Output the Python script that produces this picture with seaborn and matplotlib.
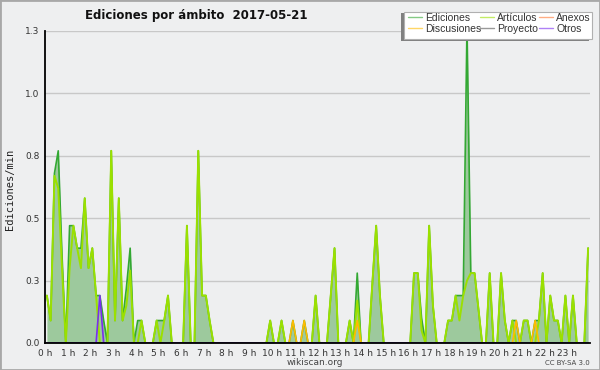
import numpy as np
import pandas as pd
import matplotlib
matplotlib.use("Agg")
import matplotlib.pyplot as plt
import seaborn as sns
from matplotlib.patches import Rectangle
from matplotlib.ticker import MultipleLocator

# Edits per minute, 10-minute bins over the day (144 bins)
ediciones = [
    0.19, 0.09, 0.68, 0.77, 0.35, 0.00,   # 0 h
    0.47, 0.47, 0.38, 0.38, 0.58, 0.30,   # 1 h
    0.38, 0.19, 0.19, 0.09, 0.00, 0.77,   # 2 h
    0.09, 0.58, 0.09, 0.22, 0.38, 0.00,   # 3 h
    0.09, 0.09, 0.00, 0.00, 0.00, 0.09,   # 4 h
    0.09, 0.09, 0.19, 0.00, 0.00, 0.00,   # 5 h
    0.00, 0.47, 0.00, 0.00, 0.77, 0.19,   # 6 h
    0.19, 0.09, 0.00, 0.00, 0.00, 0.00,   # 7 h
    0.00, 0.00, 0.00, 0.00, 0.00, 0.00,   # 8 h
    0.00, 0.00, 0.00, 0.00, 0.00, 0.09,   # 9 h
    0.00, 0.00, 0.09, 0.00, 0.00, 0.09,   # 10 h
    0.00, 0.00, 0.09, 0.00, 0.00, 0.19,   # 11 h
    0.00, 0.00, 0.00, 0.19, 0.38, 0.00,   # 12 h
    0.00, 0.00, 0.09, 0.00, 0.28, 0.00,   # 13 h
    0.00, 0.00, 0.24, 0.47, 0.19, 0.00,   # 14 h
    0.00, 0.00, 0.00, 0.00, 0.00, 0.00,   # 15 h
    0.00, 0.28, 0.28, 0.10, 0.00, 0.47,   # 16 h
    0.15, 0.00, 0.00, 0.00, 0.09, 0.09,   # 17 h
    0.19, 0.19, 0.19, 1.27, 0.28, 0.28,   # 18 h
    0.14, 0.00, 0.00, 0.28, 0.00, 0.00,   # 19 h
    0.28, 0.09, 0.00, 0.09, 0.09, 0.00,   # 20 h
    0.09, 0.09, 0.00, 0.09, 0.09, 0.28,   # 21 h
    0.00, 0.19, 0.09, 0.09, 0.00, 0.19,   # 22 h
    0.00, 0.19, 0.00, 0.00, 0.00, 0.38,   # 23 h
]

articulos = [
    0.19, 0.09, 0.67, 0.62, 0.30, 0.00,
    0.30, 0.47, 0.38, 0.30, 0.58, 0.30,
    0.38, 0.19, 0.00, 0.00, 0.00, 0.77,
    0.09, 0.58, 0.09, 0.15, 0.29, 0.00,
    0.00, 0.09, 0.00, 0.00, 0.00, 0.09,
    0.00, 0.09, 0.19, 0.00, 0.00, 0.00,
    0.00, 0.47, 0.00, 0.00, 0.77, 0.19,
    0.19, 0.09, 0.00, 0.00, 0.00, 0.00,
    0.00, 0.00, 0.00, 0.00, 0.00, 0.00,
    0.00, 0.00, 0.00, 0.00, 0.00, 0.09,
    0.00, 0.00, 0.09, 0.00, 0.00, 0.00,
    0.00, 0.00, 0.00, 0.00, 0.00, 0.19,
    0.00, 0.00, 0.00, 0.19, 0.38, 0.00,
    0.00, 0.00, 0.09, 0.00, 0.17, 0.00,
    0.00, 0.00, 0.24, 0.47, 0.19, 0.00,
    0.00, 0.00, 0.00, 0.00, 0.00, 0.00,
    0.00, 0.28, 0.28, 0.05, 0.00, 0.47,
    0.15, 0.00, 0.00, 0.00, 0.09, 0.09,
    0.19, 0.09, 0.19, 0.25, 0.28, 0.28,
    0.14, 0.00, 0.00, 0.28, 0.00, 0.00,
    0.28, 0.09, 0.00, 0.09, 0.00, 0.00,
    0.09, 0.09, 0.00, 0.00, 0.09, 0.28,
    0.00, 0.19, 0.09, 0.09, 0.00, 0.19,
    0.00, 0.19, 0.00, 0.00, 0.00, 0.38,
]

# sparse series: bin index -> value
discusiones_pts = {65: 0.09, 68: 0.09, 82: 0.09, 124: 0.09, 129: 0.09}
otros_pts = {14: 0.19}
anexos_pts = {}
proyecto_pts = {}

y_ticks = [0.0, 0.25, 0.5, 0.75, 1.0, 1.25]
y_tick_labels = ["0.0", "0.3", "0.5", "0.8", "1.0", "1.3"]
x_tick_labels = [f"{h} h" for h in range(24)]

n_bins = len(ediciones)
hours = (np.arange(n_bins) + 0.5) / 6.0


def expand(points):
    vals = np.zeros(n_bins)
    for k, v in points.items():
        vals[k] = v
    return vals


df = pd.DataFrame({
    "hora": hours,
    "Ediciones": ediciones,
    "Artículos": articulos,
    "Anexos": expand(anexos_pts),
    "Discusiones": expand(discusiones_pts),
    "Proyecto": expand(proyecto_pts),
    "Otros": expand(otros_pts),
})

colors = {
    "Ediciones": "#33a833",
    "Artículos": "#9be000",
    "Anexos": "#ff7733",
    "Discusiones": "#ffbb00",
    "Proyecto": "#555555",
    "Otros": "#7a2ef0",
}

bg = "#eeeff0"
sns.set_style("white")
plt.rcParams["font.family"] = ["DejaVu Sans"]

fig = plt.figure(figsize=(6, 3.7), dpi=100, facecolor=bg)
ax = fig.add_axes([45 / 600, 1 - 343 / 370, 545 / 600, 312 / 370])
ax.set_facecolor(bg)

ax.fill_between(df["hora"], 0, df["Ediciones"], color="#9dc99d", linewidth=0, zorder=1)
sns.lineplot(data=df, x="hora", y="Ediciones", ax=ax, color=colors["Ediciones"],
             linewidth=1.2, label="Ediciones", zorder=2)
sns.lineplot(data=df, x="hora", y="Artículos", ax=ax, color=colors["Artículos"],
             linewidth=1.4, label="Artículos", zorder=3)
for name in ["Anexos", "Discusiones", "Proyecto", "Otros"]:
    sns.lineplot(data=df, x="hora", y=name, ax=ax, color=colors[name],
                 linewidth=1.2, label=name, zorder=4)
ax.get_legend().remove()

ax.set_xlim(0, 24)
ax.set_ylim(0, 1.25)
ax.set_xticks(range(24))
ax.set_xticklabels(x_tick_labels)
ax.xaxis.set_minor_locator(MultipleLocator(1 / 6))
ax.set_yticks(y_ticks)
ax.set_yticklabels(y_tick_labels)
ax.yaxis.set_minor_locator(MultipleLocator(0.0625))
ax.tick_params(axis="both", which="major", direction="out", length=3.5, width=1,
               color="black", labelsize=6.5, labelcolor="#333333", pad=0.5)
ax.tick_params(axis="both", which="minor", direction="out", length=3, width=1, color="black")
ax.yaxis.grid(True, color="#c8c8c8", linewidth=1)
ax.set_axisbelow(True)
for s in ["top", "right"]:
    ax.spines[s].set_visible(False)
for s in ["left", "bottom"]:
    ax.spines[s].set_color("black")
    ax.spines[s].set_linewidth(1.3)
    ax.spines[s].set_zorder(6)
ax.set_xlabel("")
ax.set_ylabel("")

fig.text(10 / 600, 1 - 189 / 370, "Ediciones/min", rotation=90, ha="center", va="center",
         fontsize=7.5, family="DejaVu Sans Mono", color="#222222")
fig.text(85 / 600, 1 - 15 / 370, "Ediciones por ámbito  2017-05-21", ha="left", va="center",
         fontsize=8.5, fontweight="bold", color="#111111")
fig.text(315 / 600, 1 - 362.5 / 370, "wikiscan.org", ha="center", va="center",
         fontsize=6.5, color="#444444")
fig.text(590 / 600, 1 - 363 / 370, "CC BY-SA 3.0", ha="right", va="center",
         fontsize=5, color="#444444")

# legend box with shadow
fig.patches.append(Rectangle((401 / 600, 1 - 41 / 370), 188 / 600, 28 / 370,
                             transform=fig.transFigure, facecolor="#808080",
                             edgecolor="none", zorder=9))
fig.patches.append(Rectangle((404 / 600, 1 - 39 / 370), 188 / 600, 27 / 370,
                             transform=fig.transFigure, facecolor="white",
                             edgecolor="#b0b0b0", linewidth=0.8, zorder=10))

handles, labels = ax.get_legend_handles_labels()
hmap = dict(zip(labels, handles))
legend_cols = [["Ediciones", "Discusiones"], ["Artículos", "Proyecto"], ["Anexos", "Otros"]]
col_x = [406, 478, 537]
for names, x0 in zip(legend_cols, col_x):
    leg = fig.legend([hmap[n] for n in names], names, ncol=1, frameon=False,
                     loc="upper left", bbox_to_anchor=(x0 / 600, 1 - 11 / 370),
                     prop={"family": "Liberation Sans", "size": 7.5},
                     handlelength=1.3, handletextpad=0.35,
                     labelspacing=0.05, borderpad=0.2, borderaxespad=0)
    leg.set_zorder(11)
    for t in leg.get_texts():
        t.set_color("#333333")
    for h in leg.get_lines():
        h.set_alpha(0.6)
        h.set_linewidth(1)

fig.patches.append(Rectangle((0, 0), 1, 1, transform=fig.transFigure, fill=False,
                             edgecolor="#a8a8a8", linewidth=2, zorder=20))

fig.savefig("out.png", dpi=100, facecolor=bg)
